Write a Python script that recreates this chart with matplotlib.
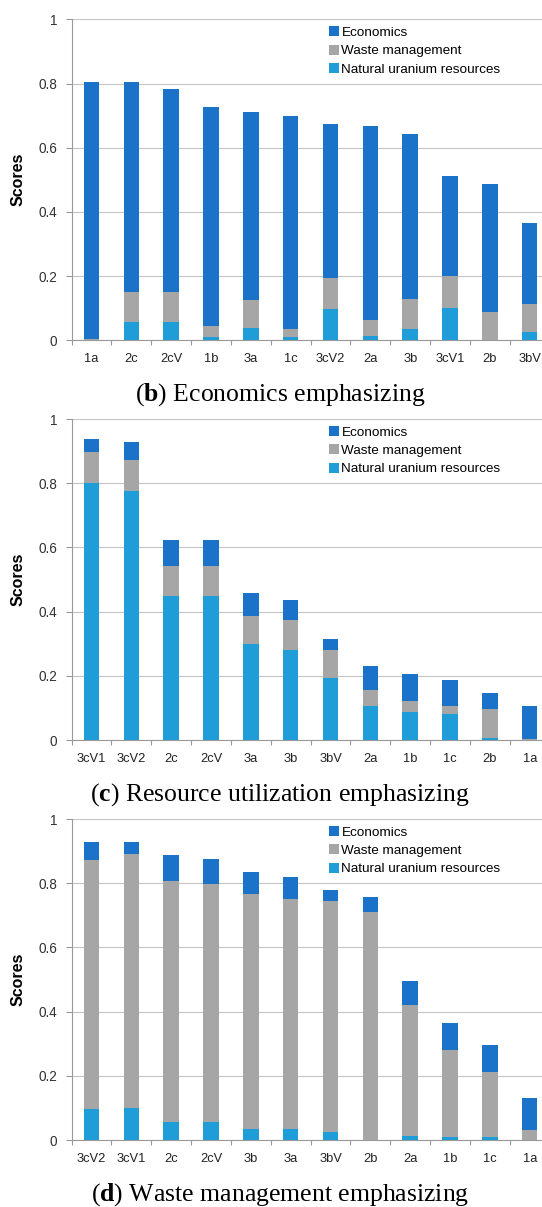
import numpy as np
import matplotlib
matplotlib.use("Agg")
import matplotlib.pyplot as plt

# Panel (b): economics emphasizing
cats_b = ["1a", "2c", "2cV", "1b", "3a", "1c", "3cV2", "2a", "3b", "3cV1", "2b", "3bV"]
nat_b = [0.000, 0.057, 0.057, 0.009, 0.037, 0.009, 0.096, 0.012, 0.034, 0.100, 0.001, 0.026]
waste_b = [0.003, 0.093, 0.093, 0.035, 0.088, 0.025, 0.098, 0.052, 0.093, 0.100, 0.087, 0.087]
econ_b = [0.803, 0.656, 0.632, 0.682, 0.585, 0.665, 0.479, 0.603, 0.517, 0.312, 0.400, 0.251]

# Panel (c): resource utilization emphasizing
cats_c = ["3cV1", "3cV2", "2c", "2cV", "3a", "3b", "3bV", "2a", "1b", "1c", "2b", "1a"]
nat_c = [0.802, 0.776, 0.450, 0.450, 0.299, 0.281, 0.193, 0.106, 0.087, 0.081, 0.006, 0.000]
waste_c = [0.096, 0.095, 0.093, 0.091, 0.087, 0.092, 0.089, 0.049, 0.033, 0.025, 0.090, 0.004]
econ_c = [0.039, 0.058, 0.081, 0.081, 0.072, 0.064, 0.032, 0.076, 0.086, 0.082, 0.049, 0.102]

# Panel (d): waste management emphasizing
cats_d = ["3cV2", "3cV1", "2c", "2cV", "3b", "3a", "3bV", "2b", "2a", "1b", "1c", "1a"]
nat_d = [0.096, 0.099, 0.056, 0.056, 0.035, 0.035, 0.025, 0.000, 0.012, 0.010, 0.008, 0.000]
waste_d = [0.775, 0.791, 0.751, 0.741, 0.732, 0.716, 0.719, 0.709, 0.410, 0.270, 0.205, 0.031]
econ_d = [0.058, 0.037, 0.080, 0.080, 0.069, 0.070, 0.034, 0.049, 0.075, 0.086, 0.082, 0.099]

C_ECON = "#1a72c9"
C_WASTE = "#a6a6a6"
C_NAT = "#1f9dd9"
GRID = "#c4c4c4"

plt.rcParams["font.family"] = ["Liberation Sans", "DejaVu Sans"]
plt.rcParams["mathtext.fontset"] = "custom"
plt.rcParams["mathtext.rm"] = "Liberation Serif"
plt.rcParams["mathtext.bf"] = "Liberation Serif:bold"

fig = plt.figure(figsize=(5.42, 12.07), dpi=100)


def stacked_panel(rect, cats, nat, waste, econ):
    ax = fig.add_axes(rect)
    x = np.arange(len(cats))
    nat = np.array(nat)
    waste = np.array(waste)
    econ = np.array(econ)
    w = 0.39
    h_nat = ax.bar(x, nat, w, color=C_NAT, zorder=3)
    h_waste = ax.bar(x, waste, w, bottom=nat, color=C_WASTE, zorder=3)
    h_econ = ax.bar(x, econ, w, bottom=nat + waste, color=C_ECON, zorder=3)

    ax.set_xlim(-0.5, len(cats) - 0.5)
    ax.set_ylim(0, 1)
    ax.set_yticks([0, 0.2, 0.4, 0.6, 0.8, 1])
    ax.set_yticklabels(["0", "0.2", "0.4", "0.6", "0.8", "1"], fontsize=9.8, color="#333333")
    ax.set_xticks(x)
    ax.set_xticklabels(cats, fontsize=9.3, color="#222222")
    ax.set_xticks(np.arange(len(cats) + 1) - 0.5, minor=True)
    ax.tick_params(axis="x", which="major", length=0, pad=9)
    ax.tick_params(axis="x", which="minor", length=3.5, color="#999999", width=0.8)
    ax.tick_params(axis="y", length=4.3, color="#999999", width=0.8, pad=6)
    ax.grid(axis="y", color=GRID, linewidth=0.8, zorder=0)
    for s in ["top", "right"]:
        ax.spines[s].set_visible(False)
    for s in ["left", "bottom"]:
        ax.spines[s].set_color("#999999")
        ax.spines[s].set_linewidth(0.8)
    ax.set_ylabel("Scores", fontsize=11.5, fontweight="bold", labelpad=9)
    ax.legend([h_econ, h_waste, h_nat],
              ["Economics", "Waste management", "Natural uranium resources"],
              loc="upper left", bbox_to_anchor=(0.539, 0.978), frameon=False,
              fontsize=9.7, handlelength=0.75, handleheight=0.75, handletextpad=0.15,
              labelspacing=0.42, borderaxespad=0, borderpad=0)
    return ax


stacked_panel([0.1321, 0.7181, 0.882, 0.2659], cats_b, nat_b, waste_b, econ_b)
stacked_panel([0.1321, 0.3869, 0.882, 0.2659], cats_c, nat_c, waste_c, econ_c)
stacked_panel([0.1321, 0.0555, 0.882, 0.2659], cats_d, nat_d, waste_d, econ_d)

cap_font = dict(fontsize=18.5, family=["Liberation Serif", "DejaVu Serif"], ha="center", va="center")
fig.text(0.517, 1 - 395 / 1207, r"($\mathbf{b}$) Economics emphasizing", **cap_font)
fig.text(0.517, 1 - 795 / 1207, r"($\mathbf{c}$) Resource utilization emphasizing", **cap_font)
fig.text(0.517, 1 - 1195 / 1207, r"($\mathbf{d}$) Waste management emphasizing", **cap_font)

fig.savefig("out.png", dpi=100)
